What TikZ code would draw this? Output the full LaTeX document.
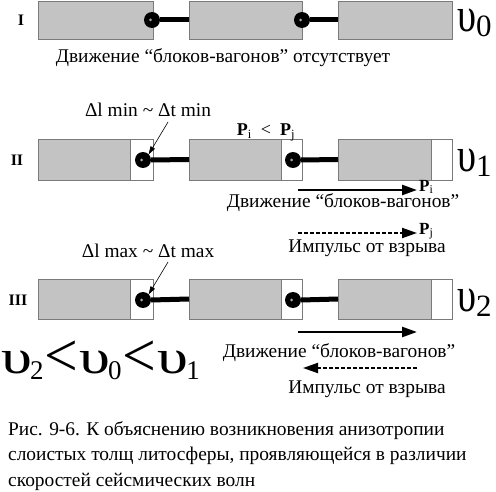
\documentclass[tikz,border=0pt]{standalone}
\usepackage{fontspec}
\setmainfont{Liberation Serif}
\usetikzlibrary{arrows.meta}
\definecolor{boxgrey}{HTML}{C3C3C3}
\definecolor{boxline}{HTML}{7A7A7A}
\newcommand{\ups}[1]{\scalebox{0.8}[1]{\fontsize{48}{48}\selectfont υ}\raisebox{-5pt}{\fontsize{31}{31}\selectfont #1}}
\newcommand{\upsl}[1]{\scalebox{1.3}[1]{\fontsize{48}{48}\selectfont υ}\kern-2pt\raisebox{-6pt}{\fontsize{27}{27}\selectfont #1}}
\newcommand{\lessbig}{\kern1pt\raisebox{-4pt}{\scalebox{1.3}[1.35]{\fontsize{46}{46}\selectfont <}}\kern1pt}
\begin{document}
\begin{tikzpicture}[x=1pt,y=-1pt,
  gbox/.style={draw=boxline, fill=boxgrey, line width=0.8pt, inner sep=0, outer sep=0, rectangle},
  wbox/.style={draw=boxline, fill=white, line width=0.8pt, inner sep=0, outer sep=0, rectangle},
  ball/.style={circle, fill=black, minimum size=16pt, inner sep=0, outer sep=0,
    path picture={\fill[gray!70] ([xshift=-1.5pt]path picture bounding box.center) circle (1.5pt);}},
  rod/.style={line width=5pt},
  txt/.style={font=\fontsize{19.4}{22}\selectfont, inner sep=0, anchor=base},
  rom/.style={font=\fontsize{16}{18}\selectfont\bfseries, inner sep=0},
  marr/.style={line width=2.5pt, -{Triangle[length=15pt,width=10pt]}},
  darr/.style={line width=2pt, dash pattern=on 4pt off 2pt, -{Triangle[length=15pt,width=10pt]}},
  parr/.style={line width=0.6pt, -{Triangle[length=8pt,width=5pt]}}
]
\useasboundingbox (0,0) rectangle (496,492);

% ---------- Row I ----------
\node[rom] (lI) at (21,20) {I};
\node[gbox, minimum width=115pt, minimum height=38pt] (r1b1) at (95.5,20) {};
\node[gbox, minimum width=113pt, minimum height=38pt] (r1b2) at (245.5,20) {};
\node[gbox, minimum width=114pt, minimum height=38pt] (r1b3) at (395,20) {};
\node[ball] (r1c1) at (152,20) {};
\node[ball] (r1c2) at (302,20) {};
\draw[rod] (r1c1.east) -- (r1b2.west);
\draw[rod] (r1c2.east) -- (r1b3.west);
\node[inner sep=0, anchor=base west] (v0) at (457,32) {\ups{0}};
\node[txt] (t1) at (223,63) {Движение “блоков-вагонов” отсутствует};

% ---------- Row II ----------
\node[rom] (lII) at (17,160) {II};
\node[gbox, minimum width=92pt, minimum height=41pt] (r2b1) at (84,159.5) {};
\node[wbox, minimum width=23pt, minimum height=41pt] (r2w1) at (141.5,159.5) {};
\node[gbox, minimum width=92pt, minimum height=41pt] (r2b2) at (235,159.5) {};
\node[wbox, minimum width=21pt, minimum height=41pt] (r2w2) at (291.5,159.5) {};
\node[gbox, minimum width=93pt, minimum height=41pt] (r2b3) at (384.5,159.5) {};
\node[wbox, minimum width=21pt, minimum height=41pt] (r2w3) at (441.5,159.5) {};
\node[ball] (r2c1) at (143,160) {};
\node[ball] (r2c2) at (293,160) {};
\draw[rod] (r2c1.east) -- (r2b2.west);
\draw[rod] (r2c2.east) -- (r2b3.west);
\node[inner sep=0, anchor=base west] (v1) at (457,172) {\ups{1}};
\node[txt] (d2) at (148,117) {Δl min \textasciitilde{} Δt min};
\coordinate (p2s) at (168,122);
\draw[parr] (p2s) -- (r2c1.north east);
\node[txt, font=\fontsize{18}{20}\selectfont] (pp) at (266,136) {\textbf{P}\textsubscript{i}\ \ <\ \ \textbf{P}\textsubscript{j}};
\coordinate (a2s) at (298,190);
\coordinate (a2e) at (417,190);
\draw[marr] (a2s) -- (a2e);
\node[inner sep=0, anchor=west, font=\fontsize{17}{20}\selectfont] (pi) at (419,187) {\textbf{P}\textsubscript{i}};
\node[txt] (t2) at (343,208) {Движение “блоков-вагонов”};
\coordinate (b2s) at (298,233);
\coordinate (b2e) at (417,233);
\draw[darr] (b2s) -- (b2e);
\node[inner sep=0, anchor=west, font=\fontsize{17}{20}\selectfont] (pj) at (419,231) {\textbf{P}\textsubscript{j}};
\node[txt] (t3) at (367,253) {Импульс от взрыва};

% ---------- Row III ----------
\node[rom] (lIII) at (18,300) {III};
\node[gbox, minimum width=92pt, minimum height=40pt] (r3b1) at (84,299) {};
\node[wbox, minimum width=23pt, minimum height=40pt] (r3w1) at (141.5,299) {};
\node[gbox, minimum width=92pt, minimum height=40pt] (r3b2) at (235,299) {};
\node[wbox, minimum width=21pt, minimum height=40pt] (r3w2) at (291.5,299) {};
\node[gbox, minimum width=93pt, minimum height=40pt] (r3b3) at (384.5,299) {};
\node[wbox, minimum width=21pt, minimum height=40pt] (r3w3) at (441.5,299) {};
\node[ball] (r3c1) at (143,300) {};
\node[ball] (r3c2) at (293,300) {};
\draw[rod] (r3c1.east) -- (r3b2.west);
\draw[rod] (r3c2.east) -- (r3b3.west);
\node[inner sep=0, anchor=base west] (v2) at (457,312) {\ups{2}};
\node[txt] (d3) at (148,258) {Δl max \textasciitilde{} Δt max};
\coordinate (p3s) at (168,262);
\draw[parr] (p3s) -- (r3c1.north east);
\coordinate (a3s) at (298,332);
\coordinate (a3e) at (417,332);
\draw[marr] (a3s) -- (a3e);
\node[txt] (t4) at (339,357) {Движение “блоков-вагонов”};
\coordinate (b3s) at (417,368);
\coordinate (b3e) at (303,368);
\draw[darr] (b3s) -- (b3e);
\node[txt] (t5) at (367,393) {Импульс от взрыва};

% ---------- relation ----------
\node[inner sep=0, anchor=base west] (rel) at (1,373)
  {\upsl{2}\lessbig\upsl{0}\lessbig\upsl{1}};

% ---------- caption ----------
\node[inner sep=0, anchor=base west, align=left, font=\fontsize{19.4}{25.5}\selectfont] (cap) at (8,486)
  {Рис. 9-6. К объяснению возникновения анизотропии\\
   слоистых толщ литосферы, проявляющейся в различии\\
   скоростей сейсмических волн};
\end{tikzpicture}
\end{document}
